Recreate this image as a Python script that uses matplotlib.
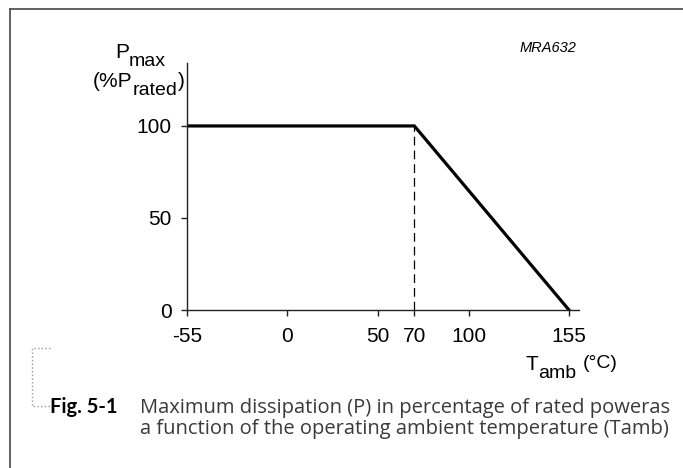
import matplotlib
matplotlib.use('Agg')
import matplotlib.pyplot as plt
from matplotlib.lines import Line2D

# data
temp = [-55, 70, 155]          # ambient temperature (degC)
power = [100, 100, 0]          # max dissipation (% of rated)
knee_temp = 70
x_ticks = [-55, 0, 50, 70, 100, 155]
y_ticks = [0, 50, 100]

W, H = 683, 468
plt.rcParams['font.family'] = ['Liberation Sans', 'DejaVu Sans']
plt.rcParams['axes.unicode_minus'] = False

fig = plt.figure(figsize=(W / 100, H / 100), dpi=100)

def fx(px):
    return px / W

def fy(py):
    return 1 - py / H

# axes box placed in pixel terms
ax = fig.add_axes([fx(187), fy(310), fx(579) - fx(187), fy(63) - fy(310)])
ax.plot(temp, power, color='black', lw=2.3, solid_joinstyle='miter')
ax.plot([knee_temp, knee_temp], [0, power[1]], color='black', lw=0.9, linestyle=(0, (7, 4)))

ax.set_xlim(-55, 160.5)
ax.set_ylim(0, 134.2)
ax.set_xticks(x_ticks)
ax.set_yticks(y_ticks)
ax.tick_params(axis='both', direction='out', length=4, width=1, color='#222222', labelsize=15)
ax.tick_params(axis='x', pad=8)
ax.tick_params(axis='y', pad=7)
for s in ['top', 'right']:
    ax.spines[s].set_visible(False)
for s in ['left', 'bottom']:
    ax.spines[s].set_color('#222222')
    ax.spines[s].set_linewidth(1.0)
ax.patch.set_alpha(0)

renderer = fig.canvas.get_renderer()

def text_run(parts, x, y):
    # parts: (string, baseline shift in px, fontsize)
    cur = x
    for s, dy, size in parts:
        t = fig.text(fx(cur), fy(y + dy), s, fontsize=size, ha='left', va='baseline')
        cur = t.get_window_extent(renderer).x1

# axis labels with near full-size subscripts
text_run([('P', 0, 15), ('max', 8, 14)], 115, 58)
text_run([('(%P', 0, 15), ('rated', 8, 14), (')', 0, 15)], 93, 87)
text_run([('T', 0, 15), ('amb', 8, 14)], 525, 370)
fig.text(fx(583), fy(368), '(°C)', fontsize=14, ha='left', va='baseline')

fig.text(fx(520), fy(52), 'MRA632', fontsize=10.5, style='italic', ha='left', va='baseline')

# page frame
fig.add_artist(Line2D([fx(10), 1], [fy(9), fy(9)], color='#555555', lw=1.3))
fig.add_artist(Line2D([fx(10), fx(10)], [fy(9), 0], color='#555555', lw=1.3))

# dotted caption bracket
fig.add_artist(Line2D([fx(50), fx(32), fx(32), fx(50)], [fy(348), fy(348), fy(406), fy(406)],
                      color='#999999', lw=1, linestyle=':'))

# caption
fig.text(fx(50), fy(413), 'Fig. 5-1', fontsize=14.5, fontweight='bold', family='Lato',
         ha='left', va='baseline', color='black')
fig.text(fx(140), fy(413), 'Maximum dissipation (P) in percentage of rated poweras',
         fontsize=14.5, family='Open Sans', ha='left', va='baseline', color='#3a3a3a')
fig.text(fx(140), fy(434), 'a function of the operating ambient temperature (Tamb)',
         fontsize=14.5, family='Open Sans', ha='left', va='baseline', color='#3a3a3a')

fig.savefig('out.png', dpi=100)
